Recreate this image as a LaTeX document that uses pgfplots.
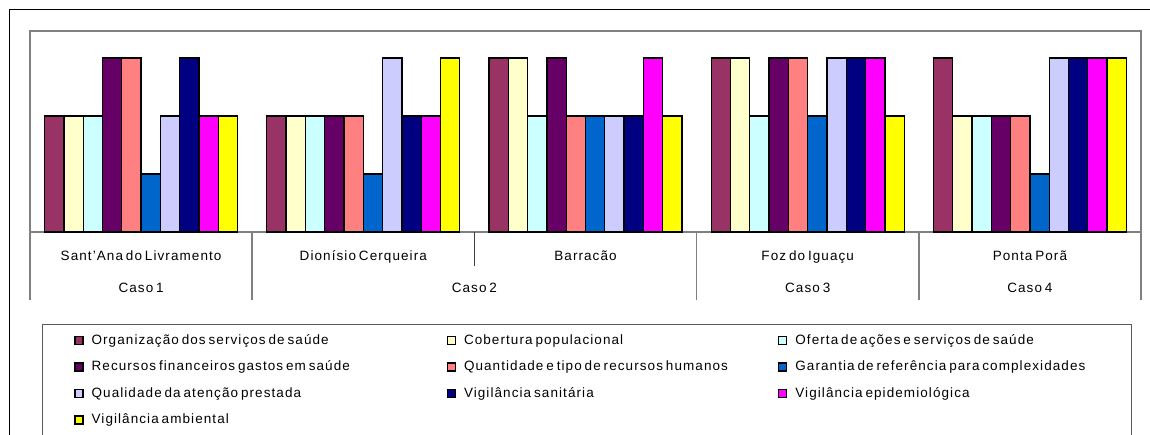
\documentclass[border=0pt]{standalone}
\usepackage{fontspec}
\setmainfont[LetterSpace=8,WordSpace=0.6]{Liberation Sans}
\usepackage{pgfplots}
\usepackage{pgfplotstable}
\pgfplotsset{compat=1.18}
\definecolor{cA}{HTML}{993366}
\definecolor{cB}{HTML}{FFFFCC}
\definecolor{cC}{HTML}{CCFFFF}
\definecolor{cD}{HTML}{660066}
\definecolor{cE}{HTML}{FF8080}
\definecolor{cF}{HTML}{0066CC}
\definecolor{cG}{HTML}{CCCCFF}
\definecolor{cH}{HTML}{000080}
\definecolor{cI}{HTML}{FF00FF}
\definecolor{cJ}{HTML}{FFFF00}
\definecolor{axgray}{HTML}{808080}
\pgfplotstableread{
x org cob ofe rec qua gar qual vsan vepi vamb
1 2 2 2 3 3 1 2 3 2 2
2 2 2 2 2 2 1 3 2 2 3
3 3 3 2 3 2 2 2 2 3 2
4 3 3 2 3 3 2 3 3 3 2
5 3 2 2 2 2 1 3 3 3 3
}\data
\newcommand{\lf}{\fontsize{13.5}{16}\selectfont}
\newcommand{\ca}[1]{\makebox[355pt][l]{#1}}
\newcommand{\cb}[1]{\makebox[314pt][l]{#1}}
\newcommand{\cc}[1]{\makebox[330pt][l]{#1}}
\begin{document}
\begin{tikzpicture}[x=1pt,y=1pt]
\useasboundingbox (0,0) rectangle (1150,435);
\draw[black, line width=1pt] (9,-2) -- (9,425) -- (1152,425);
\begin{axis}[
  at={(30pt,203pt)}, anchor=south west,
  width=1111pt, height=201pt, scale only axis,
  xmin=0.5, xmax=5.5, ymin=0, ymax=3.466,
  ybar=0pt, bar width=19.3pt,
  xtick={1,2,3,4,5},
  xticklabels={Sant'Ana do Livramento, Dionísio Cerqueira, Barracão, Foz do Iguaçu, Ponta Porã},
  major tick length=0pt,
  ytick=\empty,
  axis line style={draw=axgray, line width=1.5pt},
  clip=false,
  xticklabel style={anchor=center, yshift=-25pt, font=\lf, text height=10pt, text depth=3pt},
  legend columns=3, legend cell align=left,
  legend style={at={(0,0)}, anchor=north west, xshift=44pt, yshift=-102pt,
    draw=none, fill=none, inner sep=0pt, row sep=13.5pt, font=\lf,
    nodes={inner sep=0pt, text height=10pt, text depth=3pt},
    /tikz/every odd column/.append style={column sep=8pt}},
  legend image code/.code={\draw[#1, draw=black, line width=1.4pt] (0pt,-4pt) rectangle (8pt,4pt);},
  every axis plot/.append style={draw=black, line width=1.3pt},
]
\addplot[fill=cA] table[x=x,y=org]{\data};
\addplot[fill=cB] table[x=x,y=cob]{\data};
\addplot[fill=cC] table[x=x,y=ofe]{\data};
\addplot[fill=cD] table[x=x,y=rec]{\data};
\addplot[fill=cE] table[x=x,y=qua]{\data};
\addplot[fill=cF] table[x=x,y=gar]{\data};
\addplot[fill=cG] table[x=x,y=qual]{\data};
\addplot[fill=cH] table[x=x,y=vsan]{\data};
\addplot[fill=cI] table[x=x,y=vepi]{\data};
\addplot[fill=cJ] table[x=x,y=vamb]{\data};
\legend{\ca{Organização dos serviços de saúde},\cb{Cobertura populacional},\cc{Oferta de ações e serviços de saúde},
\ca{Recursos financeiros gastos em saúde},\cb{Quantidade e tipo de recursos humanos},\cc{Garantia de referência para complexidades},
\ca{Qualidade da atenção prestada},\cb{Vigilância sanitária},\cc{Vigilância epidemiológica},
\ca{Vigilância ambiental}}
\draw[axgray, line width=1.5pt] (axis cs:0.5,0) -- ([yshift=-68pt]axis cs:0.5,0);
\draw[axgray, line width=1.5pt] (axis cs:1.5,0) -- ([yshift=-68pt]axis cs:1.5,0);
\draw[axgray, line width=1.5pt] (axis cs:3.5,0) -- ([yshift=-68pt]axis cs:3.5,0);
\draw[axgray, line width=1.5pt] (axis cs:4.5,0) -- ([yshift=-68pt]axis cs:4.5,0);
\draw[axgray, line width=1.5pt] (axis cs:5.5,0) -- ([yshift=-68pt]axis cs:5.5,0);
\draw[axgray!50!black, line width=1pt] (axis cs:2.5,0) -- ([yshift=-34pt]axis cs:2.5,0);
\node[font=\lf, text height=10pt, text depth=3pt] at ([yshift=-57pt]axis cs:1,0) {Caso 1};
\node[font=\lf, text height=10pt, text depth=3pt] at ([yshift=-57pt]axis cs:2.5,0) {Caso 2};
\node[font=\lf, text height=10pt, text depth=3pt] at ([yshift=-57pt]axis cs:4,0) {Caso 3};
\node[font=\lf, text height=10pt, text depth=3pt] at ([yshift=-57pt]axis cs:5,0) {Caso 4};
\end{axis}
\draw[axgray!70!black, line width=1pt] (42,-5) -- (42,110) -- (1131,110) -- (1131,-5);
\end{tikzpicture}
\end{document}
